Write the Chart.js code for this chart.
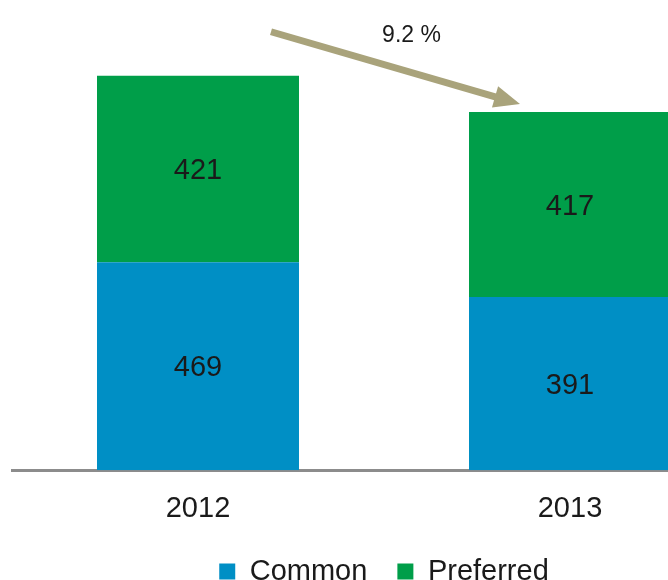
<!DOCTYPE html>
<html>
<head>
<meta charset="utf-8">
<script src="https://cdn.jsdelivr.net/npm/chart.js@4/dist/chart.umd.min.js"></script>
<style>
  html, body { margin: 0; padding: 0; background: #ffffff; overflow: hidden; }
  #wrap { position: absolute; left: 0; top: 0; width: 768px; height: 596px; }
</style>
</head>
<body>
<div id="wrap"><canvas id="chart" width="768" height="596"></canvas></div>
<script>
// Capital by share class, two years
const years = ['2012', '2013'];
const commonValues = [469, 391];
const preferredValues = [421, 417];
const seriesNames = ['Common', 'Preferred'];
const seriesColors = ['#008fc5', '#009e49'];

const FONT = '"Liberation Sans", Arial, sans-serif';
const TEXT = '#1a1a1a';

const totals = years.map((_, i) => commonValues[i] + preferredValues[i]);
const changePct = (totals[1] / totals[0] - 1) * 100;

// Numbers printed in the middle of each stacked segment
const segmentLabels = {
  id: 'segmentLabels',
  afterDatasetsDraw(chart) {
    const ctx = chart.ctx;
    ctx.save();
    ctx.font = '29px ' + FONT;
    ctx.fillStyle = TEXT;
    ctx.textAlign = 'center';
    ctx.textBaseline = 'middle';
    chart.data.datasets.forEach((ds, di) => {
      chart.getDatasetMeta(di).data.forEach((bar, i) => {
        const c = bar.getCenterPoint();
        // digits sit a little high on a middle baseline
        ctx.fillText(String(ds.data[i]), c.x, c.y + 2);
      });
    });
    ctx.restore();
  }
};

// Arrow between the two stack tops with the relative change
const changeArrow = {
  id: 'changeArrow',
  afterDatasetsDraw(chart) {
    const ctx = chart.ctx;
    const top = chart.getDatasetMeta(1).data;
    const a = top[0], b = top[1];
    const x0 = a.x + a.width / 2 - 28, y0 = a.y - 44;
    const x1 = b.x - b.width / 2 + 51, y1 = b.y - 8;
    const len = Math.hypot(x1 - x0, y1 - y0);
    const ux = (x1 - x0) / len, uy = (y1 - y0) / len;
    const headLen = 26, headHalf = 11;
    const bx = x1 - ux * headLen, by = y1 - uy * headLen;

    ctx.save();
    ctx.strokeStyle = '#a9a37b';
    ctx.fillStyle = '#a9a37b';
    ctx.lineWidth = 7;
    ctx.beginPath();
    ctx.moveTo(x0, y0);
    ctx.lineTo(bx + ux * 2, by + uy * 2);
    ctx.stroke();
    ctx.beginPath();
    ctx.moveTo(x1, y1);
    ctx.lineTo(bx - uy * headHalf, by + ux * headHalf);
    ctx.lineTo(bx + uy * headHalf, by - ux * headHalf);
    ctx.closePath();
    ctx.fill();

    ctx.font = '23px ' + FONT;
    ctx.fillStyle = TEXT;
    ctx.textAlign = 'center';
    ctx.textBaseline = 'middle';
    const mx = (x0 + x1) / 2, my = (y0 + y1) / 2;
    ctx.fillText(Math.abs(changePct).toFixed(1) + ' %', mx + 16, my - 32);
    ctx.restore();
  }
};

new Chart(document.getElementById('chart'), {
  type: 'bar',
  data: {
    labels: years,
    datasets: [
      { label: seriesNames[0], data: commonValues, backgroundColor: seriesColors[0], borderWidth: 0 },
      { label: seriesNames[1], data: preferredValues, backgroundColor: seriesColors[1], borderWidth: 0 }
    ]
  },
  options: {
    responsive: false,
    animation: false,
    devicePixelRatio: 1,
    datasets: { bar: { barPercentage: 0.543, categoryPercentage: 1 } },
    layout: { padding: { top: 27, left: 12, right: 12, bottom: 0 } },
    scales: {
      x: {
        stacked: true,
        grid: { display: false },
        border: { display: true, color: '#8c8c8c', width: 3 },
        ticks: { color: TEXT, padding: 13, font: { family: FONT, size: 29 } },
        afterFit(scale) { scale.height -= 12; }
      },
      y: {
        stacked: true,
        display: false,
        min: 0,
        max: 1000
      }
    },
    plugins: {
      legend: {
        position: 'bottom',
        labels: {
          boxWidth: 16,
          boxHeight: 16,
          padding: 30,
          color: TEXT,
          font: { family: FONT, size: 29 }
        }
      },
      tooltip: { enabled: false }
    }
  },
  plugins: [segmentLabels, changeArrow]
});
</script>
</body>
</html>
